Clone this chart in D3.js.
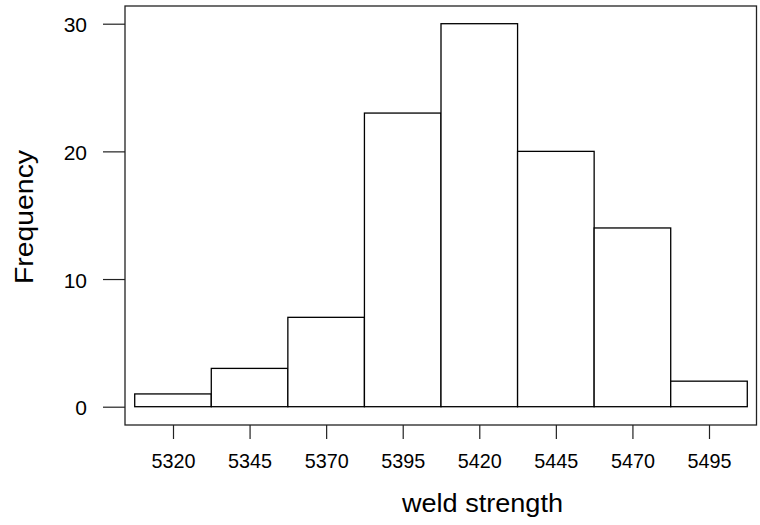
<!DOCTYPE html>
<html>
<head>
<meta charset="utf-8">
<script src="https://cdn.jsdelivr.net/npm/d3@7"></script>
<style>
  html, body { margin: 0; padding: 0; background: #fff; }
  svg { display: block; font-family: Arial, "Liberation Sans", Helvetica, sans-serif; }
</style>
</head>
<body>
<svg id="chart" width="760" height="525"></svg>
<script>
const binCenters = [5320, 5345, 5370, 5395, 5420, 5445, 5470, 5495];
const frequencies = [1, 3, 7, 23, 30, 20, 14, 2];
const binWidth = 25;
const xTickValues = [5320, 5345, 5370, 5395, 5420, 5445, 5470, 5495];
const yTickValues = [0, 10, 20, 30];
const xTitle = "weld strength";
const yTitle = "Frequency";

const svg = d3.select("#chart");
const frame = { left: 125, right: 756.5, top: 6, bottom: 425 };

const x = d3.scaleLinear().domain([5320, 5495]).range([173, 709]);
const y = d3.scaleLinear().domain([0, 30]).range([406.7, 23.7]);

// bars
svg.append("g").selectAll("rect")
  .data(binCenters.map((c, i) => ({ c, f: frequencies[i] })))
  .join("rect")
  .attr("x", d => x(d.c - binWidth / 2))
  .attr("width", d => x(d.c + binWidth / 2) - x(d.c - binWidth / 2))
  .attr("y", d => y(d.f))
  .attr("height", d => y(0) - y(d.f))
  .attr("fill", "#fff")
  .attr("stroke", "#000")
  .attr("stroke-width", 1.3);

// frame
svg.append("rect")
  .attr("x", frame.left).attr("y", frame.top)
  .attr("width", frame.right - frame.left)
  .attr("height", frame.bottom - frame.top)
  .attr("fill", "none").attr("stroke", "#222").attr("stroke-width", 1.3);

// x axis
const xAxis = svg.append("g")
  .attr("transform", `translate(0,${frame.bottom})`)
  .call(d3.axisBottom(x).tickValues(xTickValues).tickFormat(d3.format("d")).tickSize(14).tickPadding(14));
xAxis.select(".domain").remove();
xAxis.selectAll(".tick line").attr("stroke", "#222").attr("stroke-width", 1.2);
xAxis.selectAll(".tick text")
  .attr("font-size", 21).attr("fill", "#000")
  .attr("font-family", "Arial, 'Liberation Sans', sans-serif")
  .attr("textLength", 44).attr("lengthAdjust", "spacingAndGlyphs");

// y axis
const yAxis = svg.append("g")
  .attr("transform", `translate(${frame.left},0)`)
  .call(d3.axisLeft(y).tickValues(yTickValues).tickFormat(d3.format("d")).tickSize(22).tickPadding(16));
yAxis.select(".domain").remove();
yAxis.selectAll(".tick line").attr("stroke", "#222").attr("stroke-width", 1.2);
yAxis.selectAll(".tick text")
  .attr("font-size", 21).attr("fill", "#000")
  .attr("font-family", "Arial, 'Liberation Sans', sans-serif")
  .attr("dy", "0.38em");

// titles
svg.append("text")
  .attr("x", 482.5).attr("y", 511.5)
  .attr("text-anchor", "middle")
  .attr("font-size", 25).attr("fill", "#000")
  .attr("textLength", 161).attr("lengthAdjust", "spacingAndGlyphs")
  .text(xTitle);

svg.append("text")
  .attr("transform", "translate(33,217) rotate(-90)")
  .attr("text-anchor", "middle")
  .attr("font-size", 25).attr("fill", "#000")
  .attr("textLength", 134).attr("lengthAdjust", "spacingAndGlyphs")
  .text(yTitle);
</script>
</body>
</html>
